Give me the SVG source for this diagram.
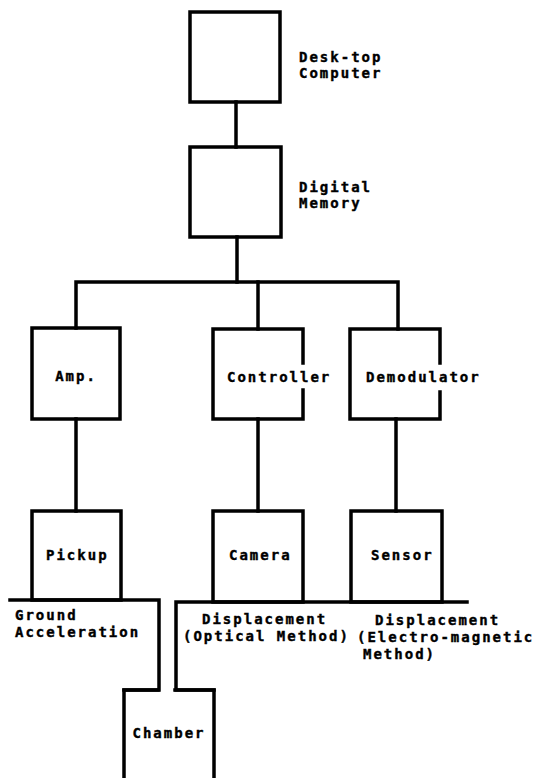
<svg xmlns="http://www.w3.org/2000/svg" width="533" height="778" viewBox="0 0 533 778">
  <style>
    .box { fill: none; stroke: #000; stroke-width: 3.5; stroke-linejoin: miter; stroke-linecap: square; }
    .wire { fill: none; stroke: #000; stroke-width: 3.5; stroke-linejoin: miter; stroke-linecap: square; }
    .lbl { font-family: "DejaVu Sans Mono", "Liberation Mono", monospace; font-weight: bold; font-size: 14px; letter-spacing: 2px; fill: #000; stroke: #000; stroke-width: 0.4; }
  </style>
  <rect width="533" height="778" fill="#fff"/>

  <!-- connectors -->
  <g id="connectors">
    <line class="wire" x1="236" y1="102" x2="236" y2="147"/>
    <line class="wire" x1="237" y1="237" x2="237" y2="282"/>
    <polyline class="wire" points="76,328 76,282 398,282 398,329"/>
    <line class="wire" x1="258" y1="282" x2="258" y2="329"/>
    <line class="wire" x1="76" y1="419" x2="76" y2="511"/>
    <line class="wire" x1="258" y1="419" x2="258" y2="511"/>
    <line class="wire" x1="396" y1="419" x2="396" y2="511"/>
    <!-- base lines feeding the chamber -->
    <polyline class="wire" points="10,600 159,600 159,690 124,690"/>
    <polyline class="wire" points="467,602 176,602 176,690 214,690"/>
  </g>

  <g id="desktop-computer">
    <rect class="box" x="190" y="12" width="90" height="90"/>
    <text class="lbl" x="299" y="62">Desk-top</text>
    <text class="lbl" x="299" y="78">Computer</text>
  </g>

  <g id="digital-memory">
    <rect class="box" x="190" y="147" width="91" height="90"/>
    <text class="lbl" x="299" y="192">Digital</text>
    <text class="lbl" x="299" y="208">Memory</text>
  </g>

  <g id="amp">
    <rect class="box" x="32" y="328" width="88" height="91"/>
    <text class="lbl" x="76" y="381" text-anchor="middle">Amp.</text>
  </g>

  <g id="controller">
    <polyline class="box" points="303,363 303,329 213,329 213,419 303,419 303,390"/>
    <text class="lbl" x="227" y="382">Controller</text>
  </g>

  <g id="demodulator">
    <polyline class="box" points="440,363 440,329 350,329 350,419 440,419 440,392"/>
    <text class="lbl" x="366" y="382">Demodulator</text>
  </g>

  <g id="pickup">
    <rect class="box" x="32" y="511" width="89" height="89"/>
    <text class="lbl" x="46" y="560">Pickup</text>
  </g>

  <g id="camera">
    <rect class="box" x="213" y="511" width="90" height="91"/>
    <text class="lbl" x="229" y="560">Camera</text>
  </g>

  <g id="sensor">
    <rect class="box" x="351" y="511" width="91" height="91"/>
    <text class="lbl" x="371" y="560">Sensor</text>
  </g>

  <g id="ground-acceleration">
    <text class="lbl" x="15" y="620">Ground</text>
    <text class="lbl" x="15" y="637">Acceleration</text>
  </g>

  <g id="displacement-optical">
    <text class="lbl" x="202" y="624">Displacement</text>
    <text class="lbl" x="183" y="641">(Optical Method)</text>
  </g>

  <g id="displacement-em">
    <text class="lbl" x="375" y="625">Displacement</text>
    <text class="lbl" x="357" y="642">(Electro-magnetic</text>
    <text class="lbl" x="363" y="659">Method)</text>
  </g>

  <g id="chamber">
    <polyline class="box" points="124,778 124,690 158,690"/>
    <polyline class="box" points="175,690 214,690 214,778"/>
    <text class="lbl" x="169" y="738" text-anchor="middle">Chamber</text>
  </g>
</svg>
